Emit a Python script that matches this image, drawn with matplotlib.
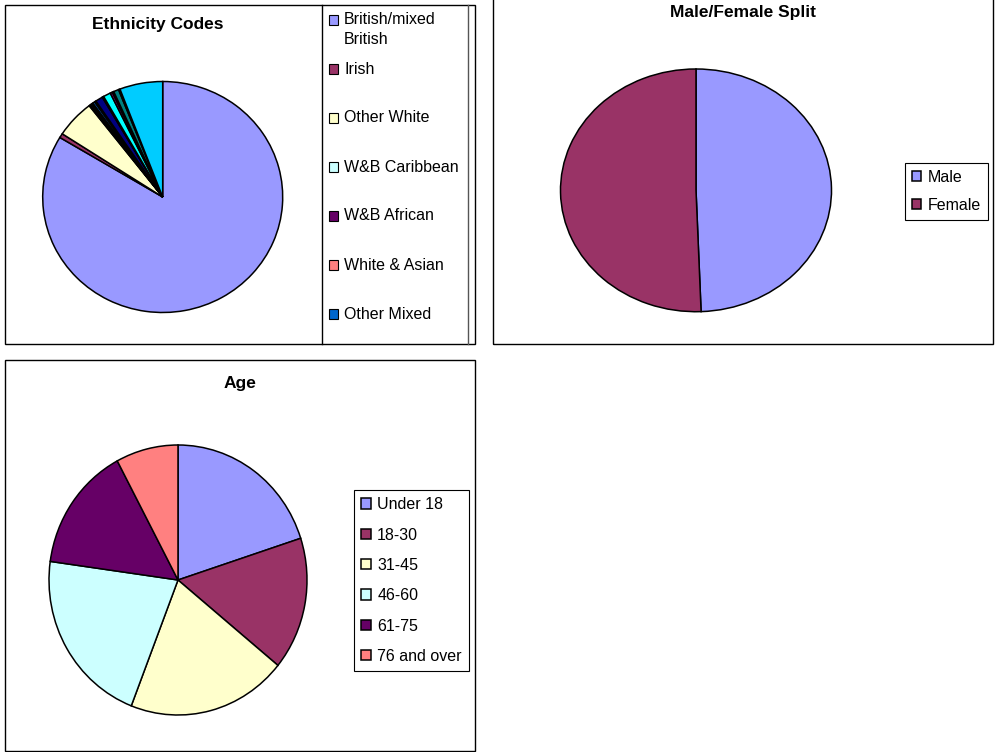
import matplotlib
matplotlib.use("Agg")
import matplotlib.pyplot as plt
from matplotlib.patches import Rectangle
from matplotlib.lines import Line2D

plt.rcParams['font.family'] = ['Liberation Sans', 'DejaVu Sans']

# ---------------- data ----------------
eth_labels = ["British/mixed\nBritish", "Irish", "Other White", "W&B Caribbean",
              "W&B African", "White & Asian", "Other Mixed", "Indian", "Pakistani",
              "Bangladeshi", "Other Asian", "Caribbean", "African", "Other Black",
              "Chinese", "Other", "Not stated"]
eth_values = [83.7, 0.6, 5.3, 0.2, 0.2, 0.2, 0.3, 0.2, 1.0,
              0.1, 0.1, 1.0, 0.3, 0.2, 0.7, 0.2, 5.8]
eth_colors = ["#9999FF", "#993366", "#FFFFCC", "#CCFFFF", "#660066", "#FF8080",
              "#0066CC", "#CCCCFF", "#000080", "#FF00FF", "#FFFF00", "#00FFFF",
              "#800080", "#800000", "#008080", "#0000FF", "#00CCFF"]

gender_labels = ["Male", "Female"]
gender_values = [49.4, 50.6]

age_labels = ["Under 18", "18-30", "31-45", "46-60", "61-75", "76 and over"]
age_values = [20.0, 15.9, 20.0, 21.3, 15.0, 7.8]

W, H = 997, 752
FS = 11.5

fig = plt.figure(figsize=(W / 100, H / 100), dpi=100)


def box(x0, y0, x1, y1):
    # pixel box with top-left origin -> figure fraction
    return [x0 / W, 1 - y1 / H, (x1 - x0) / W, (y1 - y0) / H]


def frame(x0, y0, x1, y1, lw=1.0):
    l, b, w, h = box(x0, y0, x1, y1)
    fig.patches.append(Rectangle((l, b), w, h, transform=fig.transFigure,
                                 fill=False, ec="black", lw=lw))


def vline(x, y0, y1, color="black"):
    fig.lines.append(Line2D([x / W, x / W], [1 - y0 / H, 1 - y1 / H],
                            transform=fig.transFigure, color=color, lw=1.0))


def draw_pie(pix, values, colors):
    ax = fig.add_axes(box(*pix))
    wedges, _ = ax.pie(values, colors=colors, startangle=90, counterclock=False,
                       wedgeprops=dict(edgecolor="black", linewidth=1.1, clip_on=False))
    ax.set_aspect("auto")
    ax.set_xlim(-1, 1)
    ax.set_ylim(-1, 1)
    ax.axis("off")
    return ax, wedges


def title(x, y, s):
    fig.text(x / W, 1 - y / H, s, ha="center", va="center",
             fontsize=12.5, fontweight="bold")


# -------- Ethnicity --------
frame(5, 5, 475, 344)
vline(322, 5, 344)
vline(468, 5, 344, color="#555555")
title(158, 25, "Ethnicity Codes")
draw_pie((42.7, 81.5, 282.7, 312.5), eth_values, eth_colors)

# legend is cut off after seven entries, like the original
for i, (lab, col) in enumerate(zip(eth_labels[:7], eth_colors[:7])):
    y = 20 + i * 49
    fig.patches.append(Rectangle(((333 - 4.5) / W, 1 - (y + 4.5) / H), 9 / W, 9 / H,
                                 transform=fig.transFigure, fc=col, ec="black", lw=0.8))
    for j, line in enumerate(lab.split("\n")):
        fig.text(344 / W, 1 - (y + 20 * j) / H, line, va="center", fontsize=FS)

# -------- Male / Female --------
frame(493, -5, 993, 344)
title(743, 13, "Male/Female Split")
ax_g, w_g = draw_pie((560.5, 69, 831.5, 311.7), gender_values, eth_colors[:2])
leg = ax_g.legend(w_g, gender_labels, loc="upper left",
                  bbox_to_anchor=(905 / W, 1 - 163 / H), bbox_transform=fig.transFigure,
                  borderaxespad=0, fancybox=False, edgecolor="black", fontsize=FS,
                  handlelength=0.6, handleheight=0.6, handletextpad=0.4,
                  labelspacing=0.82, borderpad=0.42, framealpha=1)
leg.get_frame().set_linewidth(0.8)

# -------- Age --------
frame(5, 360, 475, 751)
title(240, 384, "Age")
age_colors = ["#9999FF", "#993366", "#FFFFCC", "#CCFFFF", "#660066", "#FF8080"]
ax_a, w_a = draw_pie((49, 445, 307, 715), age_values, age_colors)
leg = ax_a.legend(w_a, age_labels, loc="upper left",
                  bbox_to_anchor=(354 / W, 1 - 490 / H), bbox_transform=fig.transFigure,
                  borderaxespad=0, fancybox=False, edgecolor="black", fontsize=FS,
                  handlelength=0.6, handleheight=0.6, handletextpad=0.4,
                  labelspacing=0.96, borderpad=0.45, framealpha=1)
leg.get_frame().set_linewidth(0.8)

fig.savefig("out.png", dpi=100)
